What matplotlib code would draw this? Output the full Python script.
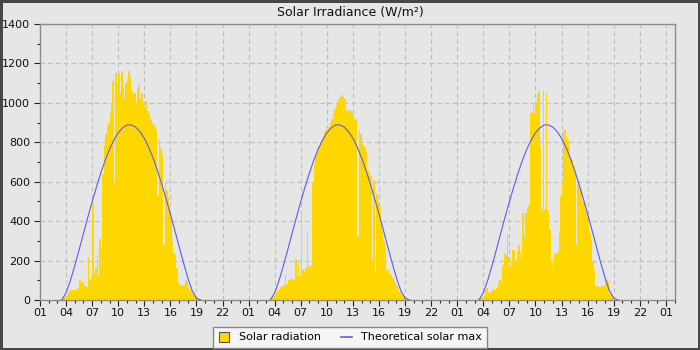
import numpy as np
import matplotlib.pyplot as plt
from matplotlib.lines import Line2D
from matplotlib.ticker import MultipleLocator, FixedLocator

# 10-minute bins from 03:00 to 19:50, one row per hour
DAY1 = [
    0, 0, 5, 10, 15, 20,
    25, 35, 45, 50, 50, 50,
    50, 55, 60, 100, 80, 90,
    75, 70, 65, 220, 100, 110,
    490, 130, 160, 230, 120, 310,
    260, 640, 780, 840, 880, 900,
    950, 1000, 1110, 600, 1150, 1100,
    1150, 1050, 1160, 1080, 1020, 1100,
    1120, 1160, 1130, 1060, 1040, 1050,
    1000, 1080, 1100, 1020, 1050, 1000,
    980, 1010, 960, 940, 920, 900,
    890, 880, 860, 530, 810, 770,
    740, 280, 600, 560, 520, 470,
    420, 300, 240, 230, 160, 90,
    75, 75, 70, 75, 100, 95,
    60, 50, 45, 35, 25, 20,
    15, 10, 5, 0, 0, 0,
]
DAY2 = [
    0, 0, 5, 10, 15, 20,
    30, 40, 50, 55, 65, 70,
    75, 130, 80, 100, 100, 110,
    105, 100, 210, 120, 190, 120,
    440, 150, 140, 160, 350, 170,
    160, 180, 600, 690, 740, 770,
    780, 790, 810, 830, 850, 860,
    870, 880, 900, 920, 950, 970,
    990, 1000, 1020, 1030, 1040, 1030,
    1020, 970, 960, 970, 960, 950,
    940, 920, 920, 320, 860, 840,
    790, 780, 770, 750, 660, 640,
    630, 210, 610, 140, 540, 500,
    470, 400, 350, 300, 270, 150,
    150, 130, 130, 110, 95, 90,
    70, 50, 40, 30, 25, 20,
    15, 8, 3, 0, 0, 0,
]
DAY3 = [
    0, 0, 5, 8, 10, 15,
    20, 50, 60, 40, 35, 45,
    50, 55, 45, 60, 85, 100,
    90, 180, 240, 230, 335, 220,
    175, 195, 255, 255, 195, 250,
    280, 250, 210, 440, 320, 440,
    470, 480, 960, 950, 1000, 950,
    1000, 1040, 1060, 780, 460, 1065,
    460, 1050, 450, 360, 355, 200,
    175, 240, 235, 245, 340, 530,
    600, 860, 860, 830, 810, 770,
    720, 710, 680, 640, 280, 590,
    580, 560, 500, 490, 460, 440,
    400, 340, 300, 200, 150, 70,
    70, 65, 65, 70, 70, 75,
    95, 100, 90, 35, 25, 15,
    10, 5, 3, 0, 0, 0,
]
BIN_START = 3.0          # hour of first bin
BIN_H = 10 / 60.0        # bin width in hours

# theoretical clear-sky max, half-hourly 03:30 .. 19:30 (same each day)
THEO_HOURS = [3.5 + 0.5 * i for i in range(33)]
THEO_VALS = [0, 37, 99, 174, 255, 338, 420, 499, 574, 645, 709, 765, 811,
             848, 873, 888, 888, 877, 854, 820, 775, 721, 658, 589, 514,
             436, 355, 272, 190, 113, 48, 9, 0]

DAY_OFFSETS = [0, 24, 48]

BG = '#e6e6e6'
GOLD = '#ffd700'
BLUE = '#5c5cf5'


def main():
    plt.rcParams['font.family'] = 'DejaVu Sans'
    plt.rcParams['font.size'] = 8

    fig = plt.figure(figsize=(7, 3.5), dpi=100)
    fig.patch.set_facecolor(BG)
    fig.patch.set_edgecolor('#474747')
    fig.patch.set_linewidth(3.6)

    ax = fig.add_axes([40 / 700, 50 / 350, 635 / 700, 276 / 350])
    ax.set_facecolor(BG)

    for off, day in zip(DAY_OFFSETS, [DAY1, DAY2, DAY3]):
        x = off + BIN_START + BIN_H * np.arange(len(day))
        ax.bar(x, day, width=BIN_H * 1.05, align='edge', color=GOLD,
               linewidth=0, antialiased=False, zorder=2)
        ax.plot(np.array(THEO_HOURS) + off, THEO_VALS, color=BLUE, lw=0.8,
                zorder=3)

    ax.set_xlim(1, 74.05)
    ax.set_ylim(0, 1400)

    major = list(range(1, 74, 3))
    ax.xaxis.set_major_locator(FixedLocator(major))
    ax.set_xticklabels(['%02d' % (h % 24) for h in major])
    ax.xaxis.set_minor_locator(MultipleLocator(1))
    ax.yaxis.set_major_locator(MultipleLocator(200))
    ax.yaxis.set_minor_locator(MultipleLocator(100))

    ax.tick_params(which='major', length=4, width=0.8, color='#222',
                   labelcolor='#111', labelsize=8)
    ax.tick_params(which='minor', length=2.5, width=0.8, color='#222')
    ax.tick_params(axis='x', pad=2)
    ax.tick_params(axis='y', pad=3)

    for sp in ax.spines.values():
        sp.set_color('#8c8c8c')
        sp.set_linewidth(1)

    ax.grid(True, which='major', color='#bdbdbd', linestyle=(0, (4, 3)),
            linewidth=0.8, zorder=0)
    ax.set_axisbelow(True)

    fig.suptitle('Solar Irradiance (W/m²)', y=0.966, va='center',
                 fontsize=9, color='#111')

    handles = [
        Line2D([], [], marker='s', markersize=7, markerfacecolor=GOLD,
               markeredgecolor='#555', linestyle='none', markeredgewidth=0.8),
        Line2D([], [], color=BLUE, lw=1.2),
    ]
    leg = fig.legend(handles, ['Solar radiation', 'Theoretical solar max'],
                     loc='lower center', bbox_to_anchor=(0.5, -0.01), ncol=2,
                     fancybox=False, framealpha=1, handlelength=1.0,
                     columnspacing=1.8, borderpad=0.5, fontsize=8)
    leg.get_frame().set_facecolor('#f5f5f5')
    leg.get_frame().set_edgecolor('#888')

    plt.savefig('out.png', dpi=100, facecolor=fig.get_facecolor(),
                edgecolor=fig.get_edgecolor())
    plt.close()


if __name__ == '__main__':
    main()
